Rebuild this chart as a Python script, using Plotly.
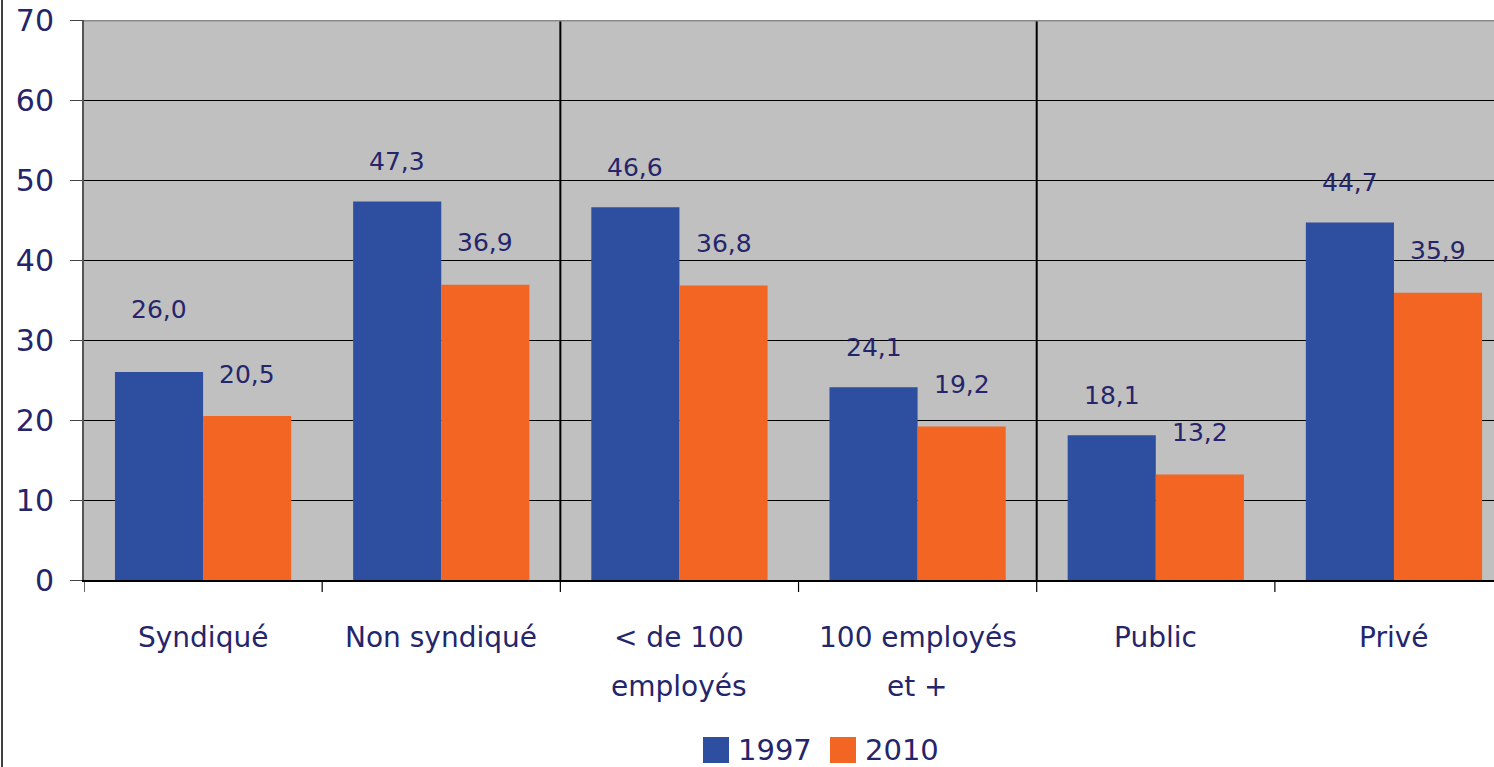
import plotly.graph_objects as go

categories = ["Syndiqué", "Non syndiqué", "< de 100<br>employés", "100 employés<br>et +", "Public", "Privé"]
values_1997 = [26.0, 47.3, 46.6, 24.1, 18.1, 44.7]
values_2010 = [20.5, 36.9, 36.8, 19.2, 13.2, 35.9]
years = ["1997", "2010"]

BLUE = "#2E4EA0"
ORANGE = "#F26522"
NAVY = "#25256B"
FONT = "DejaVu Sans"

PW, PH = 1410, 560  # taille de la zone de tracé en px

def fmt(v):
    return f"{v:.1f}".replace(".", ",")

xs = list(range(len(categories)))
fig = go.Figure()
fig.add_trace(go.Bar(x=xs, y=values_1997, name=years[0], showlegend=False,
                     marker=dict(color=BLUE, line=dict(width=0))))
fig.add_trace(go.Bar(x=xs, y=values_2010, name=years[1], showlegend=False,
                     marker=dict(color=ORANGE, line=dict(width=0))))

# labels de valeurs au-dessus des barres
for i, (a, b) in enumerate(zip(values_1997, values_2010)):
    fig.add_annotation(x=i - 0.185, y=a, text=fmt(a), showarrow=False, yshift=63 if i == 0 else 40,
                       font=dict(size=25, color=NAVY, family=FONT))
    fig.add_annotation(x=i + 0.185, y=b, text=fmt(b), showarrow=False, yshift=42,
                       font=dict(size=25, color=NAVY, family=FONT))

# libellés des catégories (deux lignes espacées comme l'original)
for i, lab in enumerate(categories):
    for j, line in enumerate(lab.split("<br>")):
        fig.add_annotation(x=i, xref="x", yref="paper", y=-(57 + 49 * j) / PH, text=line,
                           showarrow=False, yanchor="middle",
                           font=dict(size=28, color=NAVY, family=FONT))

# séparateurs de groupes
for xsep in (1.5, 3.5):
    fig.add_shape(type="line", x0=xsep, x1=xsep, y0=0, y1=70, xref="x", yref="y",
                  line=dict(color="black", width=2))

# bordure haute grise
fig.add_shape(type="line", x0=-0.5, x1=6, y0=70, y1=70, xref="x", yref="y",
              line=dict(color="#8A8A8A", width=3))
# bordure gauche du cadre
fig.add_shape(type="line", xref="paper", yref="paper", x0=-82 / PW, x1=-82 / PW,
              y0=-187 / PH, y1=1 + 20 / PH, line=dict(color="black", width=1.5))

# ticks aux frontières des catégories
for xb in [i - 0.5 for i in xs]:
    fig.add_shape(type="line", x0=xb, x1=xb, xref="x", yref="paper", y0=0, y1=-12 / PH,
                  line=dict(color="black", width=1.2))

# légende manuelle (carrés de grande taille)
legend_items = [(years[0], BLUE, 703), (years[1], ORANGE, 830)]
for name, col, px in legend_items:
    x0 = (px - 84) / PW
    fig.add_shape(type="rect", xref="paper", yref="paper", x0=x0, x1=x0 + 26 / PW,
                  y0=-(763 - 580) / PH, y1=-(737 - 580) / PH,
                  fillcolor=col, line=dict(width=0))
    fig.add_annotation(xref="paper", yref="paper", x=x0 + 33 / PW, y=-(750 - 580) / PH,
                       text=name, showarrow=False, xanchor="left", yanchor="middle",
                       font=dict(size=29, color=NAVY, family=FONT))

fig.update_layout(
    width=1494, height=767,
    margin=dict(l=84, r=0, t=20, b=187),
    plot_bgcolor="#C0C0C0",
    paper_bgcolor="white",
    barmode="group",
    bargap=0.26,
    bargroupgap=0,
    font=dict(family=FONT, color=NAVY),
    showlegend=False,
)
fig.update_xaxes(
    range=[-0.5, 5.42],
    showticklabels=False, ticks="",
    showline=True, linecolor="black", linewidth=2,
    showgrid=False, zeroline=False, automargin=False,
)
fig.update_yaxes(
    range=[0, 70], dtick=10,
    tickfont=dict(size=30, color=NAVY, family=FONT),
    showline=True, linecolor="#555555", linewidth=2,
    ticks="outside", ticklen=12, tickcolor="#444444", tickwidth=1,
    gridcolor="black", gridwidth=1, zeroline=False,
    ticklabelstandoff=10, automargin=False,
)

# retirer la marge par défaut de la page
fig.write_html("out.html", config={"displayModeBar": False},
               post_script="document.body.style.margin='0px';")
